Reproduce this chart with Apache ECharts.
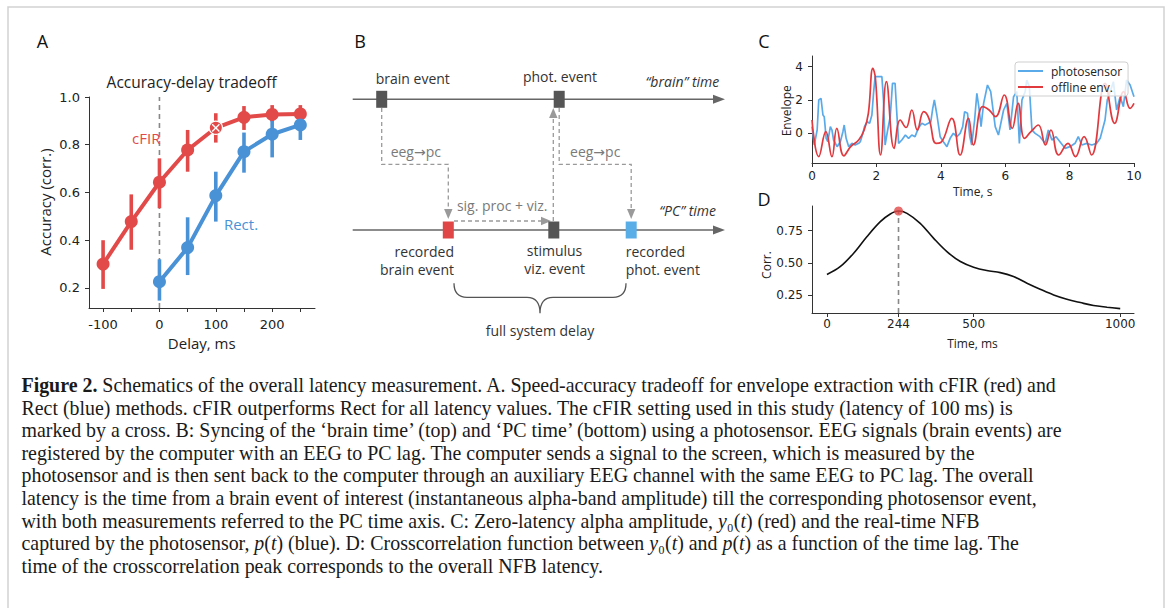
<!DOCTYPE html>
<html><head><meta charset="utf-8">
<script src="https://cdn.jsdelivr.net/npm/echarts@6/dist/echarts.min.js"></script>
<style>html,body{margin:0;padding:0;background:#fff}#c{width:1171px;height:608px}</style>
</head><body><div id="c"></div>
<script>
// ---------------- Panel A data ----------------
const delays      = [-100, -50, 0, 50, 100, 150, 200, 250];
const cfirAcc     = [0.300, 0.478, 0.643, 0.778, 0.871, 0.915, 0.927, 0.929];
const cfirLo      = [0.196, 0.360, 0.534, 0.687, 0.809, 0.862, 0.897, 0.887];
const cfirHi      = [0.400, 0.592, 0.743, 0.862, 0.932, 0.962, 0.966, 0.966];
const rectDelays  = [0, 50, 100, 150, 200, 250];
const rectAcc     = [0.226, 0.369, 0.587, 0.771, 0.844, 0.883];
const rectLo      = [0.147, 0.254, 0.478, 0.683, 0.747, 0.820];
const rectHi      = [0.320, 0.496, 0.687, 0.851, 0.948, 0.946];
const chosenDelay = 100;      // cFIR setting used (cross)
const zeroDelay   = 0;
const aXTicks     = [-100, -50, 0, 50, 100, 150, 200, 250];
const aXLabels    = [-100, 0, 100, 200];
const aYTicks     = [0.2, 0.4, 0.6, 0.8, 1.0];

// ---------------- Panel C data (time s, envelope) ----------------
const photosensor = [[0,0.4],[0.07,-0.7],[0.16,0.2],[0.21,2.0],[0.28,2.1],[0.34,1.1],[0.38,1.0],[0.44,-0.3],[0.49,-0.5],[0.57,0.4],[0.62,0.2],[0.67,-0.4],[0.78,-0.8],[0.88,-0.5],[0.96,0.1],[1.0,0.5],[1.06,-0.3],[1.14,-0.8],[1.24,-0.6],[1.34,-0.7],[1.45,-0.6],[1.5,-0.5],[1.58,0],[1.63,0.4],[1.71,0.7],[1.79,0.6],[1.86,1.1],[1.91,2.4],[1.96,3.4],[2.07,3.4],[2.17,3.4],[2.22,2.0],[2.27,-0.7],[2.35,0.2],[2.43,1.0],[2.5,3.0],[2.58,3.0],[2.64,1.0],[2.69,-0.6],[2.79,-0.4],[2.9,-0.1],[3.0,-0.3],[3.1,-0.1],[3.2,-0.2],[3.3,0.3],[3.41,0.6],[3.51,0.5],[3.61,0.6],[3.69,0.7],[3.75,1.5],[3.8,2.0],[3.88,1.1],[3.98,-0.2],[4.08,-0.5],[4.19,-0.8],[4.29,-0.3],[4.39,0],[4.5,-0.2],[4.6,0],[4.68,0.4],[4.74,1.3],[4.83,1.2],[4.9,-0.2],[4.96,-0.7],[5.05,0.8],[5.12,2.4],[5.18,1.6],[5.25,0.4],[5.33,1.8],[5.45,2.9],[5.55,2.5],[5.69,0.4],[5.79,-0.1],[5.95,1.4],[6.05,1.8],[6.15,0.2],[6.26,2.2],[6.36,2.5],[6.44,-0.6],[6.52,2.0],[6.62,2.5],[6.67,3.2],[6.75,2.8],[6.83,0.2],[6.93,0],[7.08,-0.2],[7.24,-0.6],[7.34,0.2],[7.45,-0.4],[7.58,-0.2],[7.7,-0.5],[7.86,-0.9],[8.01,-0.8],[8.17,-0.6],[8.27,-0.2],[8.38,-0.7],[8.53,-0.6],[8.69,-0.7],[8.84,-0.6],[8.95,-0.3],[9.1,0.8],[9.17,2.0],[9.28,2.6],[9.36,3.1],[9.46,1.4],[9.57,2.2],[9.67,1.6],[9.77,3.2],[9.88,2.9],[10,2.2]];
const offlineEnv  = [[0,0.8],[0.21,-1.4],[0.43,0.1],[0.62,-1.4],[0.77,0.3],[0.99,-1.35],[1.2,-0.8],[1.45,-0.4],[1.62,0.2],[1.75,1.2],[1.89,3.9],[1.97,3.3],[2.13,-1.3],[2.31,3.1],[2.55,-0.9],[2.74,0.8],[2.92,0.35],[3.1,1.4],[3.27,0.2],[3.47,1.3],[3.63,0.9],[3.85,-0.6],[4.0,-0.55],[4.34,0.9],[4.6,-1.3],[4.86,0.9],[5.01,-0.7],[5.3,1.6],[5.5,1.4],[5.7,1.0],[5.97,2.3],[6.22,0.3],[6.4,1.8],[6.6,-0.3],[6.8,0.1],[7.03,0.5],[7.25,-0.7],[7.42,0.2],[7.66,-1.3],[7.95,-0.6],[8.18,-1.4],[8.45,-0.2],[8.68,-1.3],[9.1,3.0],[9.4,0.6],[9.68,2.5],[9.88,1.5],[10,1.8]];
const cXTicks = [0, 2, 4, 6, 8, 10];
const cYTicks = [0, 2, 4];

// ---------------- Panel D data (lag ms, correlation) ----------------
const lagMs = [0, 45, 91, 136, 182, 216, 244, 273, 318, 364, 409, 455, 500, 545, 591, 636, 682, 727, 773, 818, 864, 909, 955, 1000];
const corr  = [0.41, 0.47, 0.575, 0.703, 0.82, 0.88, 0.903, 0.885, 0.807, 0.69, 0.587, 0.51, 0.466, 0.44, 0.424, 0.393, 0.342, 0.295, 0.25, 0.217, 0.191, 0.168, 0.155, 0.144];
const peakLag = 244, peakCorr = 0.903;
const dXTicks = [0, 244, 500, 1000];
const dYTicks = [0.25, 0.5, 0.75];

// ---------------- Panel B schematic (schematic units) ----------------
const bAxisEnd = 373;
const bTimelines = [{ name: '“brain” time', y: 39.3 }, { name: '“PC” time', y: 170 }];
const bSquares = [
  { name: 'brain event', x: 29.7, y: 39.3, kind: 'dark' },
  { name: 'phot. event', x: 207.2, y: 39.3, kind: 'dark' },
  { name: 'recorded brain event', x: 96.3, y: 170, kind: 'red' },
  { name: 'stimulus viz. event', x: 201.8, y: 170, kind: 'dark' },
  { name: 'recorded phot. event', x: 279.2, y: 170, kind: 'blue' }
];
const bConnectors = [
  [[29.7, 48], [29.7, 104.3], [96.3, 104.3], [96.3, 159]],
  [[102, 161], [199, 161]],
  [[201.3, 161], [201.3, 48]],
  [[207.2, 48], [207.2, 104.3], [279.2, 104.3], [279.2, 159]]
];
const bLabels = [
  ['brain event', 60.8, 18.3, 'center', 'n'],
  ['phot. event', 208, 16, 'center', 'n'],
  ['“brain” time', 367.3, 21.7, 'right', 'i'],
  ['“PC” time', 364, 150.7, 'right', 'i'],
  ['recorded', 102, 191.7, 'right', 'n'],
  ['brain event', 102, 209.3, 'right', 'n'],
  ['stimulus', 202.5, 190.7, 'center', 'n'],
  ['viz. event', 202.7, 208.3, 'center', 'n'],
  ['recorded', 273.7, 191.7, 'left', 'n'],
  ['phot. event', 273.7, 209.3, 'left', 'n'],
  ['eeg→pc', 63.8, 91, 'center', 'g'],
  ['eeg→pc', 243.2, 91, 'center', 'g'],
  ['sig. proc + viz.', 150.2, 145, 'center', 'g'],
  ['full system delay', 188, 270.7, 'center', 'n']
];
const bBrace = { x1: 102, x2: 274, yEnd: 223.3, yBar: 237.3, yTip: 253.3, xMid: 188 };

// ---------------- Caption ----------------
const captionLines = [
  '{b|Figure 2.} Schematics of the overall latency measurement. A. Speed-accuracy tradeoff for envelope extraction with cFIR (red) and',
  'Rect (blue) methods. cFIR outperforms Rect for all latency values. The cFIR setting used in this study (latency of 100 ms) is',
  'marked by a cross. B: Syncing of the ‘brain time’ (top) and ‘PC time’ (bottom) using a photosensor. EEG signals (brain events) are',
  'registered by the computer with an EEG to PC lag. The computer sends a signal to the screen, which is measured by the',
  'photosensor and is then sent back to the computer through an auxiliary EEG channel with the same EEG to PC lag. The overall',
  'latency is the time from a brain event of interest (instantaneous alpha-band amplitude) till the corresponding photosensor event,',
  'with both measurements referred to the PC time axis. C: Zero-latency alpha amplitude, {i|y}{s|₀}({i|t}) (red) and the real-time NFB',
  'captured by the photosensor, {i|p}({i|t}) (blue). D: Crosscorrelation function between {i|y}{s|₀}({i|t}) and {i|p}({i|t}) as a function of the time lag. The',
  'time of the crosscorrelation peak corresponds to the overall NFB latency.'
];

// ---------------- styling ----------------
const RED_A = '#e24a4a', BLUE_A = '#4a92d6';
const BLUE_C = '#5aaaea', RED_C = '#e0393e';
const SQ = { dark: '#555555', red: '#e04646', blue: '#5aaee8' };
const FT = '"DejaVu Sans", sans-serif';
const FL = '"Open Sans", "DejaVu Sans", sans-serif';
const FS = '"Liberation Serif", serif';
const CAP = 19.9;

function valAxis(gi, min, max, ticks, labels, fmt, margin, show, fsz) {
  return {
    type: 'value', gridIndex: gi, min: min, max: max, show: show !== false,
    splitLine: { show: false },
    axisLine: { show: true, onZero: false, lineStyle: { color: '#333', width: 1 } },
    axisTick: { show: true, length: 4, lineStyle: { color: '#333', width: 1 }, customValues: ticks },
    axisLabel: { show: true, customValues: labels, formatter: fmt, margin: margin, color: '#222', fontSize: fsz || 12, fontFamily: FT }
  };
}

function txt(text, x, y, o) {
  o = o || {};
  const al = o.align || 'center';
  return {
    type: 'text', x: x, y: y, rotation: o.rot || 0, silent: true, z: 100,
    style: {
      text: text, fill: o.color || '#222', font: o.font || ('14px ' + FL),
      align: al, textAlign: al, verticalAlign: 'middle', textVerticalAlign: 'middle',
      rich: o.rich
    }
  };
}

const capRich = {
  b: { fontFamily: FS, fontSize: CAP, fontWeight: 'bold', fill: '#1a1a1a' },
  i: { fontFamily: FS, fontSize: CAP, fontStyle: 'italic', fill: '#1a1a1a' },
  s: { fontFamily: FS, fontSize: CAP, fill: '#1a1a1a' }
};

const graphics = [
  { type: 'rect', silent: true, z: 0, shape: { x: 8, y: 7, width: 1156, height: 700 }, style: { fill: 'none', stroke: '#d2d2d2', lineWidth: 1.5 } },
  txt('A', 42.5, 40.5, { font: '18px ' + FL, color: '#111' }),
  txt('B', 360, 40.5, { font: '18px ' + FL, color: '#111' }),
  txt('C', 764, 41, { font: '18px ' + FL, color: '#111' }),
  txt('D', 764, 199, { font: '18px ' + FL, color: '#111' }),
  txt('Accuracy-delay tradeoff', 191.7, 81.7, { font: '15.5px ' + FL }),
  txt('Accuracy (corr.)', 45, 202, { font: '15px ' + FL, rot: Math.PI / 2 }),
  txt('Delay, ms', 201.7, 343, { font: '15px ' + FL }),
  txt('cFIR', 146.3, 138.3, { font: '15px ' + FL, color: RED_A }),
  txt('Rect.', 241, 224, { font: '15px ' + FL, color: BLUE_A }),
  txt('Envelope', 786, 110.8, { font: '12px ' + FL, rot: Math.PI / 2 }),
  txt('Time, s', 972.7, 191.7, { font: '12px ' + FL }),
  txt('Corr.', 766.7, 265, { font: '12px ' + FL, rot: Math.PI / 2 }),
  txt('Time, ms', 972.5, 343.3, { font: '12px ' + FL })
];
captionLines.forEach(function (line, i) {
  graphics.push(txt(line, 21.5, 385 + 22.6 * i, { align: 'left', font: CAP + 'px ' + FS, color: '#1a1a1a', rich: capRich }));
});

// ---------------- custom renderers ----------------
function errRenderer(color) {
  return function (params, api) {
    const p1 = api.coord([api.value(0), api.value(1)]);
    const p2 = api.coord([api.value(0), api.value(2)]);
    return { type: 'line', shape: { x1: p1[0], y1: p1[1], x2: p2[0], y2: p2[1] }, style: { stroke: color, lineWidth: 3.6 } };
  };
}
function crossRenderer(params, api) {
  const p = api.coord([api.value(0), api.value(1)]);
  const r = 3.6;
  return { type: 'group', children: [
    { type: 'circle', shape: { cx: p[0], cy: p[1], r: 6.6 }, style: { fill: RED_A, stroke: '#fff', lineWidth: 1.2 } },
    { type: 'line', shape: { x1: p[0] - r, y1: p[1] - r, x2: p[0] + r, y2: p[1] + r }, style: { stroke: '#fff', lineWidth: 1.4 } },
    { type: 'line', shape: { x1: p[0] - r, y1: p[1] + r, x2: p[0] + r, y2: p[1] - r }, style: { stroke: '#fff', lineWidth: 1.4 } }
  ]};
}
function timelineRenderer(params, api) {
  const t = bTimelines[params.dataIndex];
  const a = api.coord([0.7, t.y]), b = api.coord([bAxisEnd, t.y]);
  return { type: 'group', children: [
    { type: 'line', shape: { x1: a[0], y1: a[1], x2: b[0] - 10, y2: b[1] }, style: { stroke: '#666', lineWidth: 1.6 } },
    { type: 'polygon', shape: { points: [[b[0], b[1]], [b[0] - 12, b[1] - 4.5], [b[0] - 12, b[1] + 4.5]] }, style: { fill: '#666' } }
  ]};
}
function connectorRenderer(params, api) {
  const pts = bConnectors[params.dataIndex].map(function (p) { return api.coord(p); });
  const n = pts.length, end = pts[n - 1], prev = pts[n - 2];
  const dx = end[0] - prev[0], dy = end[1] - prev[1], L = Math.hypot(dx, dy);
  const ux = dx / L, uy = dy / L, al = 10, aw = 4.2;
  const base = [end[0] - ux * al, end[1] - uy * al];
  return { type: 'group', children: [
    { type: 'polyline', shape: { points: pts.slice(0, n - 1).concat([base]) }, style: { stroke: '#9a9a9a', lineWidth: 1.3, lineDash: [4, 3], fill: 'none' } },
    { type: 'polygon', shape: { points: [end, [base[0] - uy * aw, base[1] + ux * aw], [base[0] + uy * aw, base[1] - ux * aw]] }, style: { fill: '#9a9a9a' } }
  ]};
}
function squareRenderer(params, api) {
  const s = bSquares[params.dataIndex];
  const p = api.coord([s.x, s.y]);
  return { type: 'rect', shape: { x: p[0] - 5.5, y: p[1] - 8.5, width: 11, height: 17 }, style: { fill: SQ[s.kind] } };
}
function labelRenderer(params, api) {
  const l = bLabels[params.dataIndex];
  const p = api.coord([l[1], l[2]]);
  const italic = l[4] === 'i';
  return { type: 'text', x: p[0], y: p[1], style: {
    text: l[0], fill: l[4] === 'g' ? '#7a7a7a' : '#333',
    font: (italic ? 'italic ' : '') + '14px ' + FL,
    align: l[3], textAlign: l[3], verticalAlign: 'middle', textVerticalAlign: 'middle'
  }};
}
function braceRenderer(params, api) {
  const B = bBrace;
  const c = function (x, y) { const p = api.coord([x, y]); return p[0].toFixed(2) + ' ' + p[1].toFixed(2); };
  const d = 'M ' + c(B.x1, B.yEnd) +
    ' Q ' + c(B.x1, B.yBar) + ' ' + c(B.x1 + 13, B.yBar) +
    ' L ' + c(B.xMid - 13, B.yBar) +
    ' Q ' + c(B.xMid, B.yBar) + ' ' + c(B.xMid, B.yTip) +
    ' Q ' + c(B.xMid, B.yBar) + ' ' + c(B.xMid + 13, B.yBar) +
    ' L ' + c(B.x2 - 13, B.yBar) +
    ' Q ' + c(B.x2, B.yBar) + ' ' + c(B.x2, B.yEnd);
  return { type: 'path', shape: { pathData: d }, style: { fill: 'none', stroke: '#555', lineWidth: 1.3 } };
}

const yMinA = 0.116, yMaxA = 1.0, yMinD = 0.11;

const option = {
  animation: false,
  textStyle: { fontFamily: FT },
  grid: [
    { left: 89, top: 97, width: 226, height: 211, outerBoundsMode: 'none', containLabel: false },
    { left: 352, top: 60, width: 373, height: 280, outerBoundsMode: 'none', containLabel: false },
    { left: 812, top: 56, width: 322, height: 107, outerBoundsMode: 'none', containLabel: false },
    { left: 812, top: 206, width: 322, height: 107, outerBoundsMode: 'none', containLabel: false }
  ],
  xAxis: [
    valAxis(0, -125, 276, aXTicks, aXLabels, function (v) { return String(Math.round(v)); }, 10, true, 13),
    valAxis(1, 0, bAxisEnd, [], [], null, 0, false),
    valAxis(2, 0, 10, cXTicks, cXTicks, function (v) { return String(Math.round(v)); }, 7),
    valAxis(3, -51, 1047, dXTicks, dXTicks, function (v) { return String(Math.round(v)); }, 5)
  ],
  yAxis: [
    valAxis(0, yMinA, yMaxA, aYTicks, aYTicks, function (v) { return v.toFixed(1); }, 9, true, 13),
    Object.assign(valAxis(1, 0, 280, [], [], null, 0, false), { inverse: true }),
    valAxis(2, -1.78, 4.64, cYTicks, cYTicks, function (v) { return String(Math.round(v)); }, 9),
    valAxis(3, yMinD, 0.942, dYTicks, dYTicks, function (v) { return v.toFixed(2); }, 9)
  ],
  legend: {
    data: ['photosensor', 'offline env.'], orient: 'vertical', left: 1015, top: 62,
    icon: 'rect', itemWidth: 25, itemHeight: 2, itemGap: 4, padding: [3, 6, 3, 3],
    borderColor: '#cfcfcf', borderWidth: 1, borderRadius: 3, backgroundColor: 'rgba(255,255,255,0.8)',
    selectedMode: false, textStyle: { fontFamily: FL, fontSize: 12, color: '#222', padding: [0, 0, 0, 3] }, z: 10
  },
  graphic: { elements: graphics },
  series: [
    // ---- A
    { type: 'line', xAxisIndex: 0, yAxisIndex: 0, data: [[zeroDelay, yMinA], [zeroDelay, yMaxA]], symbol: 'none', silent: true, z: 1,
      lineStyle: { color: '#888', width: 1.6, type: [5, 4] } },
    { type: 'custom', xAxisIndex: 0, yAxisIndex: 0, z: 2, silent: true, encode: { x: 0, y: [1, 2] },
      data: delays.map(function (d, i) { return [d, cfirLo[i], cfirHi[i]]; }), renderItem: errRenderer(RED_A) },
    { type: 'custom', xAxisIndex: 0, yAxisIndex: 0, z: 2, silent: true, encode: { x: 0, y: [1, 2] },
      data: rectDelays.map(function (d, i) { return [d, rectLo[i], rectHi[i]]; }), renderItem: errRenderer(BLUE_A) },
    { type: 'line', name: 'cFIR', xAxisIndex: 0, yAxisIndex: 0, z: 3, silent: true,
      data: delays.map(function (d, i) { return [d, cfirAcc[i]]; }), symbol: 'circle', symbolSize: 13, showSymbol: true,
      itemStyle: { color: RED_A }, lineStyle: { color: RED_A, width: 4 } },
    { type: 'line', name: 'Rect.', xAxisIndex: 0, yAxisIndex: 0, z: 3, silent: true,
      data: rectDelays.map(function (d, i) { return [d, rectAcc[i]]; }), symbol: 'circle', symbolSize: 13, showSymbol: true,
      itemStyle: { color: BLUE_A }, lineStyle: { color: BLUE_A, width: 4 } },
    { type: 'custom', xAxisIndex: 0, yAxisIndex: 0, z: 4, silent: true,
      data: [[chosenDelay, cfirAcc[delays.indexOf(chosenDelay)]]], renderItem: crossRenderer },
    // ---- B
    { type: 'custom', xAxisIndex: 1, yAxisIndex: 1, z: 2, silent: true, clip: false,
      data: bConnectors.map(function (p) { return p[0]; }), renderItem: connectorRenderer },
    { type: 'custom', xAxisIndex: 1, yAxisIndex: 1, z: 3, silent: true, clip: false,
      data: bTimelines.map(function (t) { return [0, t.y]; }), renderItem: timelineRenderer },
    { type: 'custom', xAxisIndex: 1, yAxisIndex: 1, z: 4, silent: true, clip: false,
      data: bSquares.map(function (s) { return [s.x, s.y]; }), renderItem: squareRenderer },
    { type: 'custom', xAxisIndex: 1, yAxisIndex: 1, z: 4, silent: true, clip: false,
      data: bLabels.map(function (l) { return [l[1], l[2]]; }), renderItem: labelRenderer },
    { type: 'custom', xAxisIndex: 1, yAxisIndex: 1, z: 4, silent: true, clip: false,
      data: [[bBrace.x1, bBrace.yEnd]], renderItem: braceRenderer },
    // ---- C
    { type: 'line', name: 'photosensor', xAxisIndex: 2, yAxisIndex: 2, data: photosensor, showSymbol: false, symbol: 'none', silent: true, z: 2,
      itemStyle: { color: BLUE_C }, lineStyle: { color: BLUE_C, width: 1.7 } },
    { type: 'line', name: 'offline env.', xAxisIndex: 2, yAxisIndex: 2, data: offlineEnv, smooth: 0.45, showSymbol: false, symbol: 'none', silent: true, z: 3,
      itemStyle: { color: RED_C }, lineStyle: { color: RED_C, width: 1.7 } },
    // ---- D
    { type: 'line', xAxisIndex: 3, yAxisIndex: 3, data: [[peakLag, yMinD], [peakLag, peakCorr]], symbol: 'none', silent: true, z: 1,
      lineStyle: { color: '#888', width: 1.6, type: [5, 4] } },
    { type: 'line', xAxisIndex: 3, yAxisIndex: 3, data: lagMs.map(function (l, i) { return [l, corr[i]]; }), smooth: 0.35, symbol: 'none', silent: true, z: 2,
      lineStyle: { color: '#111', width: 1.6 } },
    { type: 'scatter', xAxisIndex: 3, yAxisIndex: 3, data: [[peakLag, peakCorr]], symbolSize: 9, silent: true, z: 3,
      itemStyle: { color: RED_A } }
  ]
};

const chart = echarts.init(document.getElementById('c'), null, { renderer: 'svg' });
chart.setOption(option);
</script>
</body></html>
